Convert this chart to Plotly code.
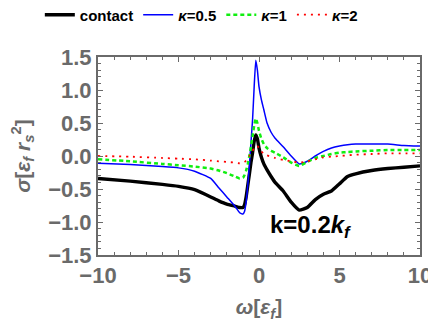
import plotly.graph_objects as go

# frequency grid, in units of epsilon_f
omega = [-10, -8, -6, -5, -4, -3, -2.5, -2, -1.5, -1.2, -1.0, -0.9, -0.8, -0.7, -0.6, -0.5, -0.4,
         -0.3, -0.2, -0.1, 0, 0.15, 0.3, 0.5, 0.75, 1.0, 1.5, 2.0, 2.5, 3.0, 3.5, 4.0, 4.5, 5.0,
         5.5, 6, 7, 8, 9, 10]

sigma_contact = [-0.34, -0.38, -0.43, -0.46, -0.51, -0.62, -0.68, -0.73, -0.76, -0.78, -0.78, -0.74,
                 -0.62, -0.45, -0.28, -0.1, 0.05, 0.22, 0.32, 0.26, 0.12, -0.02, -0.12, -0.21,
                 -0.31, -0.4, -0.53, -0.7, -0.82, -0.78, -0.66, -0.58, -0.53, -0.42, -0.31,
                 -0.27, -0.22, -0.19, -0.17, -0.15]
sigma_k05 = [-0.11, -0.13, -0.16, -0.18, -0.23, -0.34, -0.48, -0.62, -0.76, -0.86, -0.88, -0.84,
             -0.7, -0.45, -0.15, 0.2, 0.55, 1.05, 1.45, 1.3, 1.05, 0.85, 0.7, 0.5, 0.36, 0.27,
             0.14, 0.0, -0.12, -0.08, 0.0, 0.07, 0.12, 0.15, 0.17, 0.18, 0.18, 0.18, 0.16, 0.15]
sigma_k1 = [-0.05, -0.08, -0.12, -0.14, -0.16, -0.19, -0.22, -0.26, -0.31, -0.34, -0.33, -0.29,
            -0.22, -0.12, 0.0, 0.14, 0.3, 0.46, 0.57, 0.5, 0.38, 0.26, 0.18, 0.12, 0.08, 0.05,
            -0.02, -0.1, -0.15, -0.09, -0.03, 0.0, 0.03, 0.05, 0.06, 0.07, 0.08, 0.09, 0.09, 0.09]
sigma_k2 = [0.0, -0.01, -0.03, -0.04, -0.05, -0.07, -0.08, -0.09, -0.1, -0.11, -0.1, -0.09,
            -0.07, -0.04, 0.0, 0.04, 0.08, 0.12, 0.15, 0.15, 0.12, 0.07, 0.03, 0.01, -0.01,
            -0.03, -0.06, -0.08, -0.1, -0.08, -0.05, -0.02, -0.01, 0.0, 0.01, 0.02, 0.03, 0.04,
            0.04, 0.04]

GRAY = '#6a6a6a'
FONT = 'Liberation Sans'

fig = go.Figure()

series = [
    ('contact', sigma_contact, 'black', 3.4, 'solid'),
    ('<i>κ</i>=0.5', sigma_k05, '#0000ff', 1.5, 'solid'),
    ('<i>κ</i>=1', sigma_k1, '#10ee10', 2.5, '4px,3px'),
    ('<i>κ</i>=2', sigma_k2, '#ff0000', 1.8, '2px,5px'),
]
for name, ys, color, width, dash in series:
    fig.add_trace(go.Scatter(
        x=omega, y=ys, mode='lines', name=name,
        line=dict(color=color, width=width, dash=dash, shape='spline', smoothing=0.4)
    ))

axis_common = dict(
    showline=True, linecolor=GRAY, linewidth=2, mirror='ticks',
    ticks='inside', tickcolor=GRAY, tickwidth=1, ticklen=5,
    showgrid=False, zeroline=False, automargin=False,
    tickfont=dict(family=FONT, size=22, color=GRAY, weight='bold'),
)

fig.update_xaxes(
    range=[-10, 10], tickvals=[-10, -5, 0, 5, 10],
    minor=dict(dtick=1, ticks='inside', ticklen=3, tickcolor=GRAY),
    title=dict(text='<i>ω</i>[<i>ε<sub>f</sub></i>]', standoff=12,
               font=dict(family=FONT, size=21, color=GRAY, weight='bold')),
    **axis_common
)
fig.update_yaxes(
    range=[-1.5, 1.5], tickvals=[-1.5, -1.0, -0.5, 0, 0.5, 1.0, 1.5], tickformat='.1f',
    minor=dict(dtick=0.1, ticks='inside', ticklen=3, tickcolor=GRAY),
    title=dict(text='<i>σ</i>[<i>ε<sub>f</sub></i> <i>r<sub>s</sub></i><sup>2</sup>]', standoff=15,
               font=dict(family=FONT, size=21, color=GRAY, weight='bold')),
    **axis_common
)

fig.add_annotation(
    x=3.2, y=-1.07, xref='x', yref='y', showarrow=False,
    text='k=0.2<i>k<sub>f</sub></i>',
    font=dict(family=FONT, size=24, color='black', weight='bold')
)

fig.update_layout(
    width=436, height=332,
    margin=dict(l=90, r=24, t=49, b=85, autoexpand=False),
    plot_bgcolor='white', paper_bgcolor='white',
    legend=dict(orientation='h', xref='container', yref='container',
                x=0.073, xanchor='left', y=0.979, yanchor='middle',
                font=dict(family=FONT, size=15, color='black', weight='bold'),
                itemwidth=30, tracegroupgap=0, bgcolor='rgba(0,0,0,0)'),
)

fig.write_html("out.html")
